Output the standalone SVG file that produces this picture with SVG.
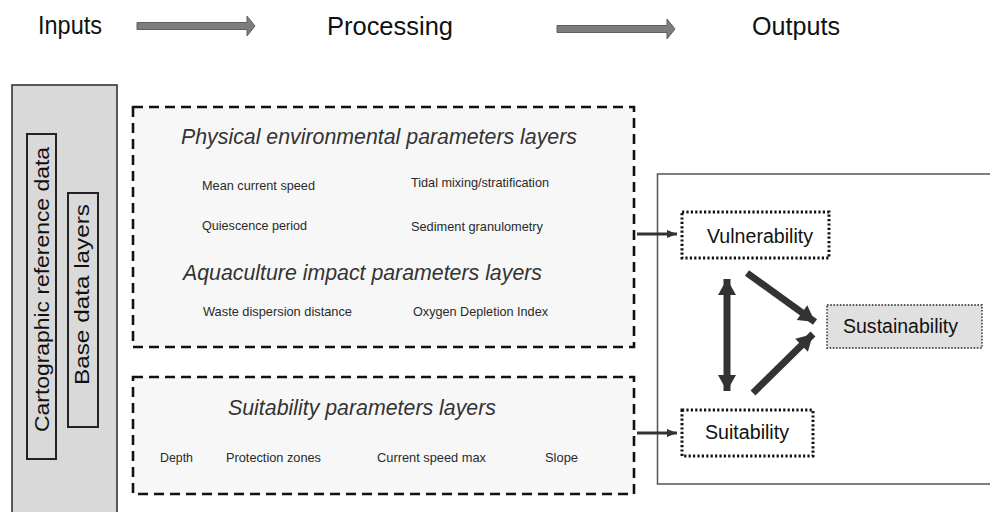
<svg xmlns="http://www.w3.org/2000/svg" width="990" height="512" viewBox="0 0 990 512">
  <defs>
    <style>
      text { font-family: "Liberation Sans", Arial, sans-serif; fill: #1e1e1e; }
      .head { font-size: 26px; fill: #111; }
      .title { font-size: 22px; font-style: italic; fill: #333; }
      .item { font-size: 13px; fill: #2a2a2a; }
      .side { font-size: 19.5px; fill: #111; }
      .out { font-size: 19.5px; fill: #111; }
      .stage-arrow { fill: #7d7d7d; stroke: #5f5f5f; stroke-width: 1; }
      .panel { fill: #f7f7f7; stroke: #111; stroke-width: 2.6; stroke-dasharray: 10 6; }
      .dotted { fill: #fff; stroke: #111; stroke-width: 3; stroke-dasharray: 2.2 2.2; }
      .dotted-soft { fill: #e0e0e0; stroke: #555; stroke-width: 1.8; stroke-dasharray: 1.6 1.6; }
      .link { stroke: #333; stroke-width: 3; fill: none; }
      .flow { stroke: #333; stroke-width: 7; fill: none; }
    </style>
    <marker id="small-head" markerUnits="userSpaceOnUse" markerWidth="10" markerHeight="10" viewBox="0 0 10 10" refX="10" refY="5" orient="auto">
      <path d="M0,1 L10,5 L0,9 Z" fill="#333"/>
    </marker>
    <marker id="big-head" markerUnits="userSpaceOnUse" markerWidth="20" markerHeight="20" viewBox="0 0 20 20" refX="18" refY="10" orient="auto-start-reverse">
      <path d="M2,1 L18,10 L2,19 Z" fill="#333"/>
    </marker>
  </defs>

  <!-- stage headings -->
  <g id="stages">
    <text class="head" x="38" y="34" textLength="64" lengthAdjust="spacingAndGlyphs">Inputs</text>
    <polygon class="stage-arrow" points="137,22.5 247,22.5 247,16 255,26 247,36 247,29.5 137,29.5"/>
    <text class="head" x="327" y="35" textLength="126" lengthAdjust="spacingAndGlyphs">Processing</text>
    <polygon class="stage-arrow" points="557,25.5 667,25.5 667,19 675,29 667,39 667,32.5 557,32.5"/>
    <text class="head" x="752" y="35" textLength="88" lengthAdjust="spacingAndGlyphs">Outputs</text>
  </g>

  <!-- inputs column -->
  <g id="inputs">
    <rect x="12" y="85" width="105" height="440" fill="#d9d9d9" stroke="#333" stroke-width="1.6"/>
    <g id="cartographic">
      <rect x="27" y="134" width="29" height="325" fill="none" stroke="#222" stroke-width="2"/>
      <text class="side" transform="translate(48.5,289.5) rotate(-90)" text-anchor="middle" textLength="285" lengthAdjust="spacingAndGlyphs">Cartographic reference data</text>
    </g>
    <g id="base-layers">
      <rect x="68" y="193" width="30" height="234" fill="none" stroke="#222" stroke-width="2"/>
      <text class="side" transform="translate(89,294.5) rotate(-90)" text-anchor="middle" textLength="181" lengthAdjust="spacingAndGlyphs">Base data layers</text>
    </g>
  </g>

  <!-- processing: vulnerability layers -->
  <g id="vulnerability-layers">
    <rect class="panel" x="133" y="107" width="501" height="240"/>
    <text class="title" x="181" y="144" textLength="396" lengthAdjust="spacingAndGlyphs">Physical environmental parameters layers</text>
    <text class="item" x="202" y="190" textLength="113" lengthAdjust="spacingAndGlyphs">Mean current speed</text>
    <text class="item" x="411" y="187" textLength="138" lengthAdjust="spacingAndGlyphs">Tidal mixing/stratification</text>
    <text class="item" x="202" y="230" textLength="105" lengthAdjust="spacingAndGlyphs">Quiescence period</text>
    <text class="item" x="411" y="231" textLength="132" lengthAdjust="spacingAndGlyphs">Sediment granulometry</text>
    <text class="title" x="183" y="280" textLength="359" lengthAdjust="spacingAndGlyphs">Aquaculture impact parameters layers</text>
    <text class="item" x="203" y="316" textLength="149" lengthAdjust="spacingAndGlyphs">Waste dispersion distance</text>
    <text class="item" x="413" y="316" textLength="135" lengthAdjust="spacingAndGlyphs">Oxygen Depletion Index</text>
  </g>

  <!-- processing: suitability layers -->
  <g id="suitability-layers">
    <rect class="panel" x="133" y="377" width="501" height="117"/>
    <text class="title" x="228" y="415" textLength="268" lengthAdjust="spacingAndGlyphs">Suitability parameters layers</text>
    <text class="item" x="160" y="462" textLength="33" lengthAdjust="spacingAndGlyphs">Depth</text>
    <text class="item" x="226" y="462" textLength="95" lengthAdjust="spacingAndGlyphs">Protection zones</text>
    <text class="item" x="377" y="462" textLength="109" lengthAdjust="spacingAndGlyphs">Current speed max</text>
    <text class="item" x="545" y="462" textLength="33" lengthAdjust="spacingAndGlyphs">Slope</text>
  </g>

  <!-- outputs frame -->
  <g id="outputs">
    <rect x="657.5" y="174" width="345" height="310" fill="#fff" stroke="#555" stroke-width="1.5"/>
  </g>

  <g id="vulnerability">
    <rect class="dotted" x="682" y="212" width="147" height="46"/>
    <text class="out" x="707" y="243" textLength="106" lengthAdjust="spacingAndGlyphs">Vulnerability</text>
  </g>

  <g id="sustainability">
    <rect class="dotted-soft" x="827" y="305" width="155" height="43"/>
    <text class="out" x="843" y="333" textLength="115" lengthAdjust="spacingAndGlyphs">Sustainability</text>
  </g>

  <g id="suitability">
    <rect class="dotted" x="682" y="410" width="131" height="46"/>
    <text class="out" x="705" y="439" textLength="84" lengthAdjust="spacingAndGlyphs">Suitability</text>
  </g>

  <!-- connectors -->
  <g id="connectors">
    <line class="link" x1="637" y1="234" x2="677" y2="234" marker-end="url(#small-head)"/>
    <line class="link" x1="637" y1="433" x2="677" y2="433" marker-end="url(#small-head)"/>
    <line class="flow" x1="727" y1="279" x2="727" y2="391" marker-start="url(#big-head)" marker-end="url(#big-head)"/>
    <line class="flow" x1="747" y1="273" x2="815" y2="322" marker-end="url(#big-head)"/>
    <line class="flow" x1="753" y1="393" x2="813" y2="334" marker-end="url(#big-head)"/>
  </g>
</svg>
